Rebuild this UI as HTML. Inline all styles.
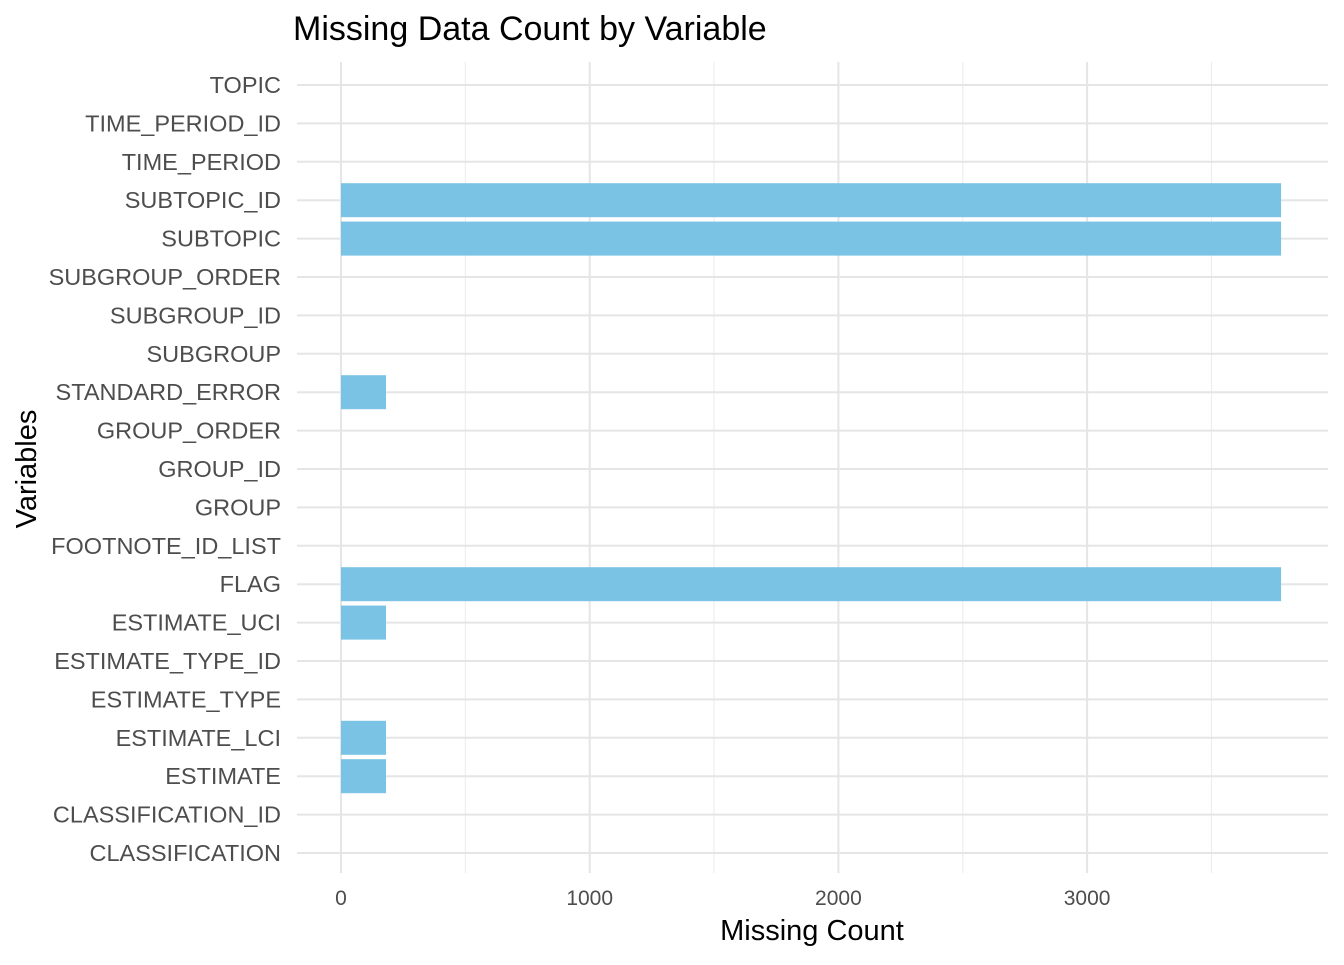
<!DOCTYPE html>
<html><head><meta charset="utf-8"><style>
body{margin:0;background:#fff;font-family:"Liberation Sans",Arial,sans-serif}
</style></head><body>
<svg id="chart" width="1344" height="960" xmlns="http://www.w3.org/2000/svg" font-family="Liberation Sans, Arial, sans-serif">
<text x="293" y="40" font-size="34" fill="#000">Missing Data Count by Variable</text>
<g id="grid"></g><g id="bars"></g><g id="yticks"></g><g id="xticks"></g>
<text x="812" y="940" font-size="29" text-anchor="middle" fill="#000">Missing Count</text>
<text transform="translate(36,469) rotate(-90)" font-size="29" text-anchor="middle" fill="#000">Variables</text>
</svg>
<script>
const categories=["CLASSIFICATION","CLASSIFICATION_ID","ESTIMATE","ESTIMATE_LCI","ESTIMATE_TYPE","ESTIMATE_TYPE_ID","ESTIMATE_UCI","FLAG","FOOTNOTE_ID_LIST","GROUP","GROUP_ID","GROUP_ORDER","STANDARD_ERROR","SUBGROUP","SUBGROUP_ID","SUBGROUP_ORDER","SUBTOPIC","SUBTOPIC_ID","TIME_PERIOD","TIME_PERIOD_ID","TOPIC"];
const values=[0,0,181,181,0,0,181,3780,0,0,0,0,181,0,0,0,3780,3780,0,0,0];
const xTicks=[0,1000,2000,3000];
const xMinor=[500,1500,2500,3500];
const NS="http://www.w3.org/2000/svg";
const x=v=>341+v*0.2487;
const y=i=>853-i*38.4;
const px0=297,px1=1328,py0=62,py1=873;
function mk(t,a,p){const e=document.createElementNS(NS,t);for(const k in a)e.setAttribute(k,a[k]);p.appendChild(e);return e;}
const g=document.getElementById('grid'),b=document.getElementById('bars'),yt=document.getElementById('yticks'),xt=document.getElementById('xticks');
xMinor.forEach(v=>{const l=mk('line',{x1:x(v),x2:x(v),y1:py0,y2:py1,stroke:'#ebebeb','stroke-width':1},g);

});
xTicks.forEach(v=>{const l=mk('line',{x1:x(v),x2:x(v),y1:py0,y2:py1,stroke:'#e5e5e5','stroke-width':2},g);


const t=mk('text',{x:x(v),y:905,'font-size':21,'text-anchor':'middle',fill:'#4d4d4d'},xt);t.textContent=v;

});
categories.forEach((c,i)=>{const l=mk('line',{x1:px0,x2:px1,y1:y(i),y2:y(i),stroke:'#e5e5e5','stroke-width':2},g);


const t=mk('text',{x:281,y:y(i)+8,'font-size':23.5,'text-anchor':'end',fill:'#4d4d4d'},yt);t.textContent=c;


if(values[i]>0){const r=mk('rect',{x:x(0),y:y(i)-17,width:x(values[i])-x(0),height:34,fill:'#7ac3e5'},b);

}});
</script>
</body></html>
